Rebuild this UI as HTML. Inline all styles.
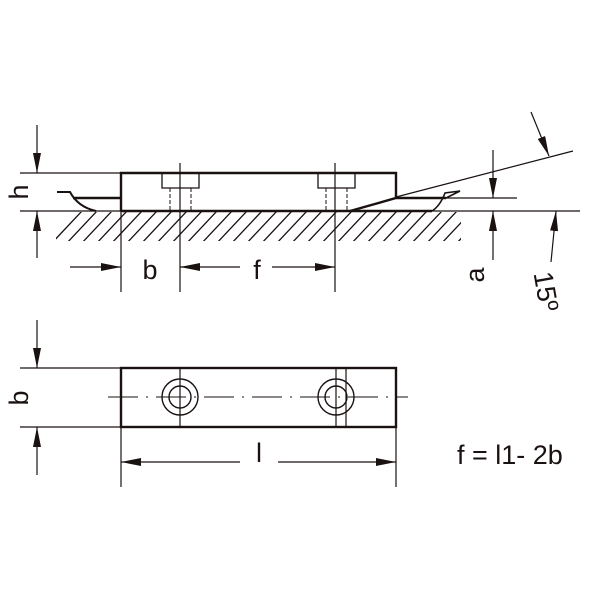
<!DOCTYPE html>
<html><head><style>body{margin:0;background:#fff}svg{display:block}</style></head><body>
<svg width="600" height="600" viewBox="0 0 600 600" xmlns="http://www.w3.org/2000/svg" font-family="Liberation Sans, sans-serif">
<defs>
<marker id="ar" viewBox="0 0 20 8" refX="20" refY="4" markerWidth="20" markerHeight="8" markerUnits="userSpaceOnUse" orient="auto"><path d="M0,0 L20,4 L0,8 z" fill="#1a1111"/></marker>
<clipPath id="hc"><rect x="56" y="212" width="405" height="29"/></clipPath>
</defs>
<g stroke="#1a1111" fill="none">
<!-- hatch -->
<g clip-path="url(#hc)" stroke-width="1.3">
<path d="M50,245 l32,-34 M65,245 l32,-34 M80,245 l32,-34 M95,245 l32,-34 M110,245 l32,-34 M125,245 l32,-34 M140,245 l32,-34 M155,245 l32,-34 M170,245 l32,-34 M185,245 l32,-34 M200,245 l32,-34 M215,245 l32,-34 M230,245 l32,-34 M245,245 l32,-34 M260,245 l32,-34 M275,245 l32,-34 M290,245 l32,-34 M305,245 l32,-34 M320,245 l32,-34 M335,245 l32,-34 M350,245 l32,-34 M365,245 l32,-34 M380,245 l32,-34 M395,245 l32,-34 M410,245 l32,-34 M425,245 l32,-34 M440,245 l32,-34 M455,245 l32,-34"/>
</g>
<!-- base & ref lines -->
<line x1="20" y1="211" x2="580" y2="211" stroke-width="1.2"/>
<line x1="20" y1="173" x2="121" y2="173" stroke-width="1.2"/>
<line x1="396" y1="198" x2="517" y2="198" stroke-width="1.2"/>
<line x1="396" y1="197" x2="573" y2="151" stroke-width="1.2"/>
<!-- block -->
<path d="M121,211 L121,173 L396,173 L396,197" stroke-width="2.4"/>
<line x1="121" y1="211" x2="350" y2="211" stroke-width="2.6"/>
<path d="M350,211 L396,198 L446,198" stroke-width="2.4"/>
<path d="M432,211 Q440,206 445,193 L460,191 L446,198" stroke-width="1.6"/>
<line x1="350" y1="211" x2="432" y2="211" stroke-width="2.4"/>
<!-- left wedge -->
<path d="M121,198 L73,198" stroke-width="2.4"/>
<path d="M57,192 L70,192 Q78,207 96,211" stroke-width="2"/>
<!-- bolts -->
<path d="M162,173 V188 H199 V173 M318,173 V188 H355 V173" stroke-width="1.3"/>
<path d="M170,188 V211 M191,188 V211 M326,188 V211 M347,188 V211" stroke-width="1" stroke-dasharray="4,2"/>
<line x1="180" y1="163" x2="180" y2="292" stroke-width="1.2"/>
<line x1="335" y1="163" x2="335" y2="292" stroke-width="1.2"/>
<line x1="121" y1="211" x2="121" y2="292" stroke-width="1.2"/>
<!-- dims top -->
<line x1="70" y1="267" x2="121" y2="267" stroke-width="1.2" marker-end="url(#ar)"/>
<line x1="240" y1="267" x2="180" y2="267" stroke-width="1.2" marker-end="url(#ar)"/>
<line x1="272" y1="267" x2="335" y2="267" stroke-width="1.2" marker-end="url(#ar)"/>
<line x1="37" y1="125" x2="37" y2="173" stroke-width="1.2" marker-end="url(#ar)"/>
<line x1="37" y1="258" x2="37" y2="211" stroke-width="1.2" marker-end="url(#ar)"/>
<line x1="493" y1="150" x2="493" y2="198" stroke-width="1.2" marker-end="url(#ar)"/>
<line x1="493" y1="260" x2="493" y2="211" stroke-width="1.2" marker-end="url(#ar)"/>
<line x1="531" y1="112" x2="549" y2="156" stroke-width="1.2" marker-end="url(#ar)"/>
<line x1="551" y1="262" x2="556" y2="211" stroke-width="1.2" marker-end="url(#ar)"/>
<!-- bottom view -->
<rect x="121" y="368" width="275" height="59" stroke-width="2.4"/>
<line x1="20" y1="368" x2="121" y2="368" stroke-width="1.2"/>
<line x1="20" y1="427" x2="121" y2="427" stroke-width="1.2"/>
<line x1="108" y1="397" x2="408" y2="397" stroke-width="1.1" stroke-dasharray="30,8,2,8"/>
<circle cx="180" cy="397" r="18" stroke-width="1.4"/>
<circle cx="180" cy="397" r="11" stroke-width="1.4"/>
<circle cx="336" cy="397" r="18" stroke-width="1.4"/>
<circle cx="336" cy="397" r="11" stroke-width="1.4"/>
<line x1="180" y1="368" x2="180" y2="427" stroke-width="1.2"/>
<line x1="336" y1="368" x2="336" y2="427" stroke-width="1.2"/>
<line x1="346" y1="368" x2="346" y2="427" stroke-width="1.2"/>
<line x1="37" y1="320" x2="37" y2="368" stroke-width="1.2" marker-end="url(#ar)"/>
<line x1="37" y1="475" x2="37" y2="427" stroke-width="1.2" marker-end="url(#ar)"/>
<line x1="121" y1="427" x2="121" y2="487" stroke-width="1.2"/>
<line x1="396" y1="427" x2="396" y2="487" stroke-width="1.2"/>
<line x1="240" y1="462" x2="121" y2="462" stroke-width="1.2" marker-end="url(#ar)"/>
<line x1="278" y1="462" x2="396" y2="462" stroke-width="1.2" marker-end="url(#ar)"/>
</g>
<g fill="#1a1111" font-size="27">
<text x="150" y="279" text-anchor="middle">b</text>
<text x="257" y="279" text-anchor="middle">f</text>
<text x="259" y="462" text-anchor="middle">l</text>
<text x="457" y="464">f = l1- 2b</text>
<text transform="translate(28,192) rotate(-90)" text-anchor="middle">h</text>
<text transform="translate(28,398) rotate(-90)" text-anchor="middle">b</text>
<text transform="translate(484,275) rotate(-90)" text-anchor="middle">a</text>
<text transform="translate(537,293) rotate(80)" text-anchor="middle">15º</text>
</g>
</svg>
</body></html>
